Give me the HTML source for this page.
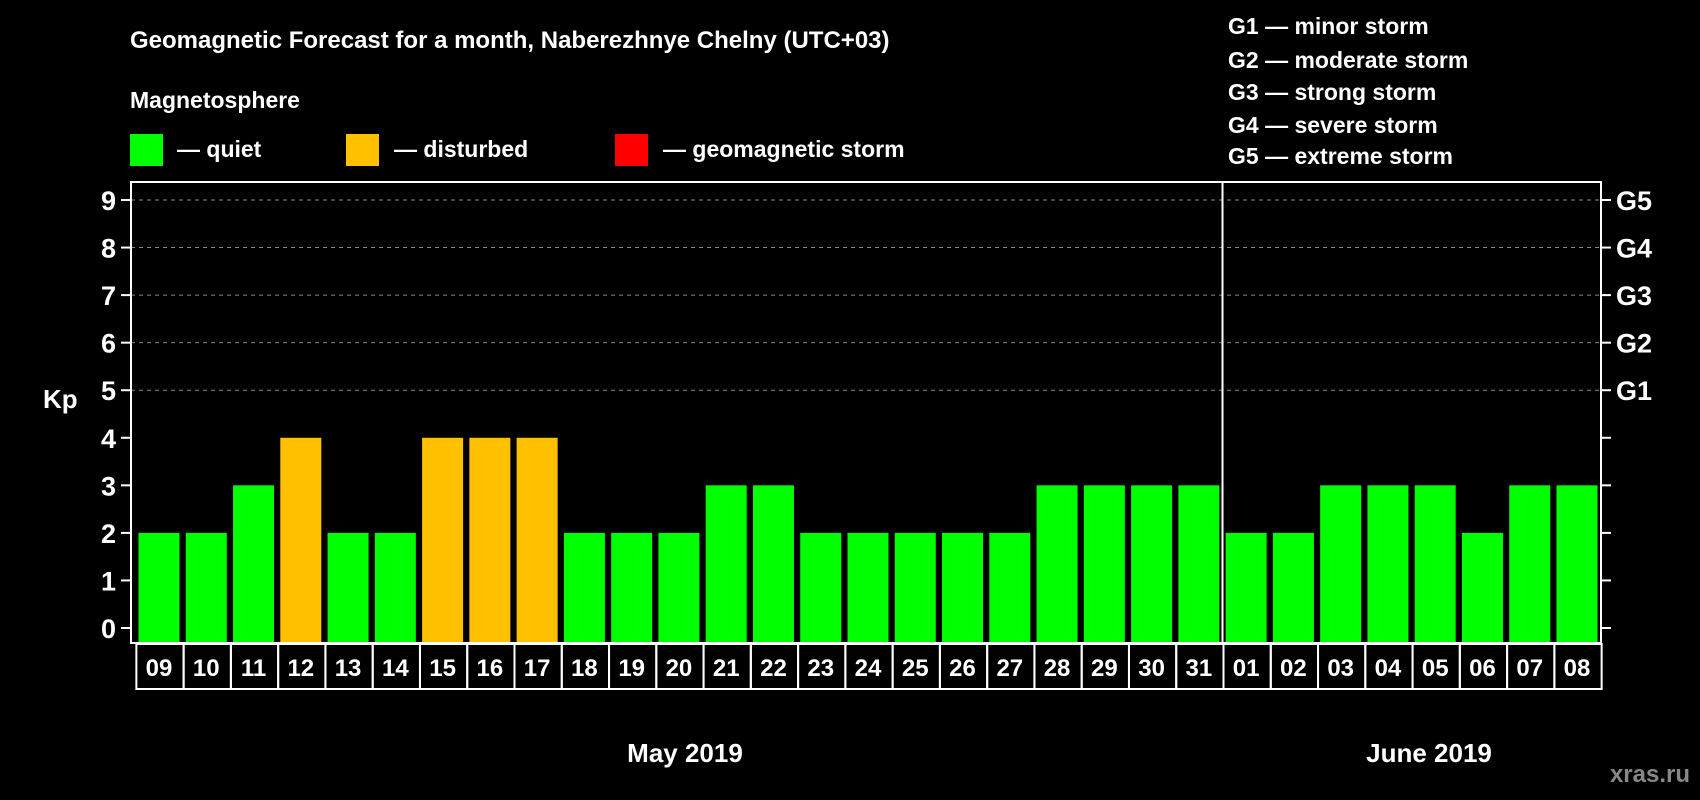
<!DOCTYPE html>
<html><head><meta charset="utf-8"><style>
body{margin:0;background:#000;}
svg{display:block;font-family:"Liberation Sans",Arial,sans-serif;font-weight:bold;}
</style></head><body>
<svg id="chart" width="1700" height="800">
<text x="130" y="48" fill="#fff" font-size="24">Geomagnetic Forecast for a month, Naberezhnye Chelny (UTC+03)</text>
<text x="130" y="108" fill="#fff" font-size="23">Magnetosphere</text>
<g>
<rect x="130" y="134" width="33" height="32" fill="#00ff00"/>
<text x="177" y="157" fill="#fff" font-size="23">— quiet</text>
<rect x="346" y="134" width="33" height="32" fill="#ffc000"/>
<text x="394" y="157" fill="#fff" font-size="23">— disturbed</text>
<rect x="615" y="134" width="33" height="32" fill="#ff0000"/>
<text x="663" y="157" fill="#fff" font-size="23">— geomagnetic storm</text>
</g>
<g font-size="23" fill="#fff">
<text x="1228" y="34">G1 — minor storm</text>
<text x="1228" y="68">G2 — moderate storm</text>
<text x="1228" y="100">G3 — strong storm</text>
<text x="1228" y="133">G4 — severe storm</text>
<text x="1228" y="164">G5 — extreme storm</text>
</g>
<text x="43" y="408" fill="#fff" font-size="26">Kp</text>
<text x="685" y="762" fill="#fff" font-size="26" text-anchor="middle">May 2019</text>
<text x="1429" y="762" fill="#fff" font-size="26" text-anchor="middle">June 2019</text>
<text x="1690" y="782" fill="#888" font-size="24" text-anchor="end">xras.ru</text>
<g id="plot"></g>
</svg>
<script>
const days=["09","10","11","12","13","14","15","16","17","18","19","20","21","22","23","24","25","26","27","28","29","30","31","01","02","03","04","05","06","07","08"];
const kpValues=[2,2,3,4,2,2,4,4,4,2,2,2,3,3,2,2,2,2,2,3,3,3,3,2,2,3,3,3,2,3,3];
const yTicks=[0,1,2,3,4,5,6,7,8,9];
const gLabels=["G1","G2","G3","G4","G5"];
const gLevels=[5,6,7,8,9];
const dividerAfter=22;
const NS="http://www.w3.org/2000/svg";
const g=document.getElementById('plot');
const L=131,R=1601,T=182,B=643;
const y0=628,unit=(628-200)/9;
const x0=159,step=(1577-159)/30,bw=41;
function yS(v){return y0-v*unit;}
function xS(i){return x0+i*step;}
function mk(tag,attrs){const e=document.createElementNS(NS,tag);for(const k in attrs)e.setAttribute(k,attrs[k]);g.appendChild(e);return e;}
yTicks.forEach(v=>{
  const y=yS(v);
  if(v>=5){const ln=mk('line',{x1:L,x2:R,y1:y,y2:y,stroke:'#888','stroke-dasharray':'4,4','stroke-width':1});
  
  }
  const t1=mk('line',{x1:L-10,x2:L,y1:y,y2:y,stroke:'#fff','stroke-width':2});
  
  
  const t2=mk('line',{x1:R,x2:R+10,y1:y,y2:y,stroke:'#fff','stroke-width':2});
  
  
  const tx=mk('text',{x:116,y:y+10,fill:'#fff','font-size':27,'text-anchor':'end'});
  tx.textContent=v;
  
  
});
gLabels.forEach((lab,i)=>{
  const tx=mk('text',{x:1616,y:yS(gLevels[i])+10,fill:'#fff','font-size':27});
  tx.textContent=lab;
  
  
});
kpValues.forEach((v,i)=>{
  const c=v>=5?'#ff0000':(v>=4?'#ffc000':'#00ff00');
  const r=mk('rect',{x:xS(i)-bw/2,y:yS(v),width:bw,height:B-1-yS(v),fill:c});
  
  
  const bx=mk('rect',{x:xS(i)-step/2+1,y:B+1,width:step,height:45,fill:'none',stroke:'#fff','stroke-width':2});
  
  
  const tx=mk('text',{x:xS(i),y:B+33,fill:'#fff','font-size':24,'text-anchor':'middle'});
  tx.textContent=days[i];
  
  
});
const frame=mk('rect',{x:L,y:T,width:R-L,height:B-T,fill:'none',stroke:'#fff','stroke-width':2});


const dx=(xS(dividerAfter)+xS(dividerAfter+1))/2;
const dv=mk('line',{x1:dx,x2:dx,y1:T,y2:B,stroke:'#fff','stroke-width':2});


</script>
</body></html>
